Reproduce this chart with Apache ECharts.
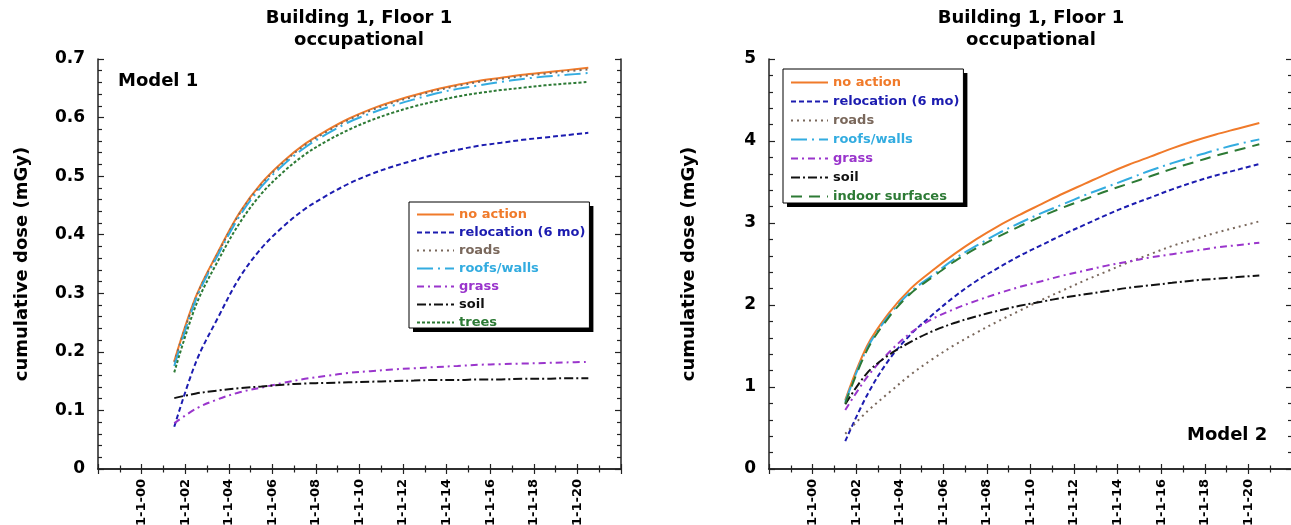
<!DOCTYPE html>
<html>
<head>
    <meta charset="utf-8">
    <title>Building 1, Floor 1 - occupational</title>
    <script src="https://cdn.jsdelivr.net/npm/echarts@6/dist/echarts.min.js"></script>
    <style>
        body { margin: 0; background: #fff; }
        #chart { width: 1291px; height: 525px; }
    </style>
</head>
<body>
<div id="chart"></div>
<script>
// x values (years), start of each year = 1-1-yy
const years = [2001.5, 2002.5, 2003.5, 2004.5, 2005.5, 2006.5, 2007.5, 2008.5, 2009.5, 2010.5,
               2011.5, 2012.5, 2013.5, 2014.5, 2015.5, 2016.5, 2017.5, 2018.5, 2019.5, 2020.5];

// Model 1 (mGy)
const m1NoAction   = [0.184, 0.295, 0.370, 0.438, 0.488, 0.525, 0.555, 0.578, 0.598, 0.614, 0.627, 0.638, 0.648, 0.656, 0.663, 0.668, 0.673, 0.677, 0.681, 0.685];
const m1Relocation = [0.072, 0.183, 0.258, 0.327, 0.377, 0.414, 0.444, 0.467, 0.487, 0.503, 0.516, 0.527, 0.537, 0.545, 0.552, 0.557, 0.562, 0.566, 0.570, 0.574];
const m1Roads      = [0.182, 0.293, 0.368, 0.436, 0.486, 0.523, 0.553, 0.576, 0.596, 0.612, 0.625, 0.636, 0.646, 0.654, 0.661, 0.666, 0.671, 0.675, 0.679, 0.682];
const m1Roofs      = [0.176, 0.290, 0.365, 0.432, 0.482, 0.519, 0.549, 0.572, 0.592, 0.607, 0.620, 0.631, 0.641, 0.649, 0.655, 0.661, 0.666, 0.670, 0.673, 0.676];
const m1Grass      = [0.078, 0.103, 0.119, 0.131, 0.139, 0.147, 0.154, 0.159, 0.164, 0.167, 0.170, 0.172, 0.174, 0.176, 0.178, 0.179, 0.180, 0.181, 0.182, 0.183];
const m1Soil       = [0.121, 0.129, 0.134, 0.138, 0.141, 0.144, 0.146, 0.147, 0.148, 0.149, 0.150, 0.151, 0.152, 0.152, 0.153, 0.153, 0.154, 0.154, 0.155, 0.155];
const m1Trees      = [0.165, 0.280, 0.355, 0.420, 0.470, 0.507, 0.537, 0.560, 0.579, 0.595, 0.608, 0.619, 0.628, 0.636, 0.642, 0.647, 0.651, 0.655, 0.658, 0.661];

// Model 2 (mGy)
const m2NoAction   = [0.84, 1.50, 1.90, 2.20, 2.42, 2.62, 2.80, 2.96, 3.10, 3.23, 3.36, 3.48, 3.60, 3.71, 3.81, 3.91, 4.00, 4.08, 4.15, 4.22];
const m2Relocation = [0.34, 0.90, 1.33, 1.64, 1.88, 2.10, 2.29, 2.45, 2.60, 2.73, 2.86, 2.98, 3.10, 3.21, 3.31, 3.41, 3.50, 3.58, 3.65, 3.72];
const m2Roads      = [0.43, 0.70, 0.93, 1.15, 1.34, 1.51, 1.66, 1.80, 1.93, 2.06, 2.18, 2.30, 2.41, 2.52, 2.62, 2.72, 2.80, 2.88, 2.95, 3.02];
const m2Roofs      = [0.82, 1.47, 1.87, 2.16, 2.36, 2.56, 2.72, 2.87, 3.00, 3.12, 3.23, 3.34, 3.44, 3.54, 3.64, 3.73, 3.81, 3.89, 3.96, 4.02];
const m2Grass      = [0.72, 1.12, 1.42, 1.66, 1.83, 1.95, 2.05, 2.14, 2.22, 2.29, 2.36, 2.42, 2.48, 2.53, 2.58, 2.62, 2.66, 2.70, 2.73, 2.76];
const m2Soil       = [0.79, 1.17, 1.39, 1.55, 1.68, 1.78, 1.86, 1.93, 1.99, 2.04, 2.09, 2.13, 2.17, 2.21, 2.24, 2.27, 2.30, 2.32, 2.34, 2.36];
const m2Indoor     = [0.80, 1.45, 1.85, 2.14, 2.34, 2.53, 2.69, 2.83, 2.96, 3.08, 3.19, 3.29, 3.39, 3.48, 3.57, 3.66, 3.74, 3.82, 3.89, 3.96];

const FONT = 'DejaVu Sans';
const LEGEND_FONT = 13;

// line styles per legend name
const styles = {
    'no action':         { color: '#f07a2a', type: 'solid' },
    'relocation (6 mo)': { color: '#1c1cb0', type: [5, 3] },
    'roads':             { color: '#7a685c', type: [2, 4] },
    'roofs/walls':       { color: '#33ace0', type: [16, 5, 2, 5] },
    'grass':             { color: '#9a35cc', type: [7, 4, 2, 4] },
    'soil':              { color: '#111111', type: [9, 3, 2, 3] },
    'trees':             { color: '#2d7a35', type: [3, 2] },
    'indoor surfaces':   { color: '#2d7a35', type: [11, 7] }
};

function pairs(vals) {
    return years.map((x, i) => [x, vals[i]]);
}

function line(name, vals, idx) {
    const s = styles[name];
    return {
        name: name,
        type: 'line',
        xAxisIndex: idx * 2,
        yAxisIndex: idx * 2,
        data: pairs(vals),
        symbol: 'none',
        smooth: 0.35,
        lineStyle: { color: s.color, type: s.type, width: 2 },
        itemStyle: { color: s.color },
        emphasis: { disabled: true }
    };
}

function xAxes(grid) {
    const yearLabel = v => (v === 1998 || v === 2022) ? '' : '1-1-' + String(v % 100).padStart(2, '0');
    const common = {
        type: 'value', gridIndex: grid, min: 1998, max: 2022, interval: 2,
        axisLine: { lineStyle: { color: '#222', width: 1.5 } },
        axisTick: { inside: true, length: 5, lineStyle: { color: '#222', width: 1.2 } },
        minorTick: { show: true, splitNumber: 2, length: 3.5, lineStyle: { color: '#222', width: 1.2 } },
        splitLine: { show: false }
    };
    return [
        Object.assign({}, common, {
            position: 'bottom',
            axisLabel: {
                rotate: 90, margin: 10, formatter: yearLabel,
                color: '#000', fontFamily: FONT, fontWeight: 'bold', fontSize: 13
            }
        }),
        Object.assign({}, common, { position: 'top', axisLabel: { show: false } })
    ];
}

function yAxes(grid, max, interval, fmt, gap) {
    const common = {
        type: 'value', gridIndex: grid, min: 0, max: max, interval: interval,
        axisLine: { show: true, lineStyle: { color: '#222', width: 1.5 } },
        axisTick: { show: true, inside: true, length: 6, lineStyle: { color: '#222', width: 1.2 } },
        minorTick: { show: true, splitNumber: 5, length: 4, lineStyle: { color: '#222', width: 1.2 } },
        splitLine: { show: false }
    };
    return [
        Object.assign({}, common, {
            position: 'left',
            name: 'cumulative dose (mGy)',
            nameLocation: 'middle',
            nameGap: gap,
            nameTextStyle: { color: '#000', fontFamily: FONT, fontWeight: 'bold', fontSize: 18 },
            axisLabel: {
                margin: 13, formatter: fmt,
                color: '#000', fontFamily: FONT, fontWeight: 'bold', fontSize: 17
            }
        }),
        Object.assign({}, common, { position: 'right', axisLabel: { show: false } })
    ];
}

// legend box size from the text widths
const ctx = document.createElement('canvas').getContext('2d');
ctx.font = 'bold ' + LEGEND_FONT + 'px "' + FONT + '"';

function legendBox(names, left, top, gap, pad) {
    const textW = Math.max.apply(null, names.map(n => ctx.measureText(n).width));
    const w = pad[3] + 37 + 5 + textW + pad[1];
    const h = pad[0] + names.length * 12 + (names.length - 1) * gap + pad[2];
    return [
        { type: 'rect', z: 5, shape: { x: left + 4, y: top + 4, width: w, height: h }, style: { fill: '#000' } },
        { type: 'rect', z: 6, shape: { x: left, y: top, width: w, height: h },
          style: { fill: '#fff', stroke: '#000', lineWidth: 1 } }
    ];
}

function legend(names, left, top, gap, pad) {
    return {
        orient: 'vertical',
        left: left,
        top: top,
        z: 10,
        itemWidth: 37,
        itemHeight: 12,
        itemGap: gap,
        padding: pad,
        selectedMode: false,
        itemStyle: { color: 'transparent', borderColor: 'transparent', borderWidth: 0 },
        lineStyle: { width: 2 },
        textStyle: { fontFamily: FONT, fontWeight: 'bold', fontSize: LEGEND_FONT, lineHeight: 12 },
        data: names.map(n => ({ name: n, textStyle: { color: styles[n].color } }))
    };
}

const names1 = ['no action', 'relocation (6 mo)', 'roads', 'roofs/walls', 'grass', 'soil', 'trees'];
const names2 = ['no action', 'relocation (6 mo)', 'roads', 'roofs/walls', 'grass', 'soil', 'indoor surfaces'];
const pad1 = [6, 5, 6, 7];
const pad2 = [7, 5, 7, 7];

const chart = echarts.init(document.getElementById('chart'));
const option = {
    animation: false,
    backgroundColor: '#fff',
    textStyle: { fontFamily: FONT },
    title: [
        {
            text: 'Building 1, Floor 1\noccupational', left: 359, top: 7, textAlign: 'center', padding: 0,
            textStyle: { fontFamily: FONT, fontWeight: 'bold', fontSize: 18, lineHeight: 22, color: '#000' }
        },
        {
            text: 'Building 1, Floor 1\noccupational', left: 1031, top: 7, textAlign: 'center', padding: 0,
            textStyle: { fontFamily: FONT, fontWeight: 'bold', fontSize: 18, lineHeight: 22, color: '#000' }
        },
        {
            text: 'Model 1', left: 118, top: 72, padding: 0,
            textStyle: { fontFamily: FONT, fontWeight: 'bold', fontSize: 18, color: '#000' }
        },
        {
            text: 'Model 2', left: 1187, top: 426, padding: 0,
            textStyle: { fontFamily: FONT, fontWeight: 'bold', fontSize: 18, color: '#000' }
        }
    ],
    grid: [
        { left: 98, top: 59, width: 523, height: 410, outerBoundsMode: 'none' },
        { left: 769, top: 59, width: 523, height: 410, outerBoundsMode: 'none' }
    ],
    xAxis: xAxes(0).concat(xAxes(1)),
    yAxis: yAxes(0, 0.7, 0.1, v => v === 0 ? '0' : v.toFixed(1), 67)
        .concat(yAxes(1, 5, 1, v => String(v), 71)),
    legend: [
        legend(names1, 409, 202, 5, pad1),
        legend(names2, 783, 69, 6, pad2)
    ],
    graphic: legendBox(names1, 409, 202, 5, pad1).concat(legendBox(names2, 783, 69, 6, pad2)),
    series: [
        line('no action', m1NoAction, 0),
        line('relocation (6 mo)', m1Relocation, 0),
        line('roads', m1Roads, 0),
        line('roofs/walls', m1Roofs, 0),
        line('grass', m1Grass, 0),
        line('soil', m1Soil, 0),
        line('trees', m1Trees, 0),
        line('no action', m2NoAction, 1),
        line('relocation (6 mo)', m2Relocation, 1),
        line('roads', m2Roads, 1),
        line('roofs/walls', m2Roofs, 1),
        line('grass', m2Grass, 1),
        line('soil', m2Soil, 1),
        line('indoor surfaces', m2Indoor, 1)
    ]
};
chart.setOption(option);
</script>
</body>
</html>
